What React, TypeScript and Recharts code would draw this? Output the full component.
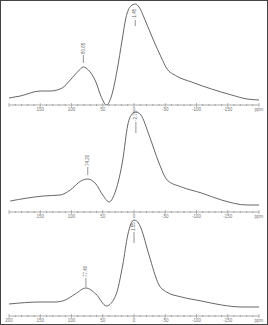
import React from 'react';
import { LineChart, Line, XAxis, YAxis, ReferenceLine, ReferenceDot } from 'recharts';

const ppm1 = [200, 182, 150, 134, 115, 102, 89, 81, 73, 61, 53, 44, 36, 27, 19, 13, 5, -2, -8, -19, -31, -44, -52, -68, -92, -124, -156, -181, -200];
const int1 = [7, 9, 14, 14, 17, 25, 34, 38, 35, 23, 9, 0, 9, 35, 65, 87, 99, 101, 98, 83, 65, 47, 37, 29, 23, 16, 10, 6, 5];

const ppm2 = [198, 145, 118, 102, 85, 74, 61, 50, 40, 29, 18, 10, 3, -3, -11, -24, -40, -53, -76, -108, -140, -181, -200];
const int2 = [11, 16, 17, 22, 31, 33, 28, 17, 10, 22, 52, 87, 98, 100, 97, 77, 49, 32, 25, 19, 12, 7, 7];

const ppm3 = [200, 150, 126, 110, 94, 77, 61, 44, 29, 18, 10, 5, 0, -6, -11, -24, -40, -52, -76, -108, -140, -173, -200];
const int3 = [12, 14, 14, 16, 22, 28, 22, 10, 21, 51, 81, 92, 96, 94, 88, 61, 31, 24, 19, 15, 11, 9, 9];

const peakPpm1 = [81, -2];
const peakLabels1 = ['80.65', '-1.45'];
const peakPpm2 = [74, -3];
const peakLabels2 = ['74.20', '-2.75'];
const peakPpm3 = [77, 0];
const peakLabels3 = ['77.40', '1.55'];

// marker geometry per peak: [line top, line bottom] in intensity units
const markerRanges1 = [[50, 42], [85, 79]];
const markerRanges2 = [[45, 37], [90, 79]];
const markerRanges3 = [[38, 29], [84, 73]];

const tickValues: number[] = [];
for (let v = 200; v >= -200; v -= 10) tickValues.push(v);

const build = (p: number[], v: number[]) => p.map((x, i) => ({ ppm: x, y: v[i] }));

const AxisTick = (props: any) => {
  const { x, y, payload, showLeft } = props;
  const v = payload.value;
  const major = v % 50 === 0;
  let label = '';
  if (v === -200) label = 'ppm';
  else if (v === 200) label = showLeft ? '200' : '';
  else if (major) label = String(v);
  return (
    <g>
      <line x1={x} x2={x} y1={y - (major ? 2 : 1)} y2={y + (major ? 2 : 1)} stroke="#888" strokeWidth={0.6} />
      {label && (
        <text x={x} y={y + 6} textAnchor="middle" fontSize={4.5} fill="#777" fontFamily="Liberation Sans, Arial, sans-serif">
          {label}
        </text>
      )}
    </g>
  );
};

const PeakText = (text: string) => (props: any) => {
  const vb = props.viewBox || {};
  const x = (vb.x ?? 0) + (vb.width ?? 0) / 2;
  const y = (vb.y ?? 0) + (vb.height ?? 0) / 2;
  return (
    <text
      x={x}
      y={y}
      transform={`rotate(-90, ${x}, ${y})`}
      textAnchor="start"
      dominantBaseline="middle"
      fontSize={4.5}
      fill="#666"
      fontFamily="Liberation Sans, Arial, sans-serif"
    >
      {text}
    </text>
  );
};

const Panel = ({ data, top, peaks, labels, ranges, showLeft }: any) => (
  <div style={{ position: 'absolute', left: 0, top }}>
    <LineChart width={268} height={112} data={data} margin={{ top: 0, right: 10, bottom: 0, left: 8 }}>
      <XAxis
        dataKey="ppm"
        type="number"
        domain={[-200, 200]}
        reversed
        ticks={tickValues}
        interval={0}
        height={7}
        tickSize={0}
        tickMargin={0}
        tickLine={false}
        axisLine={{ stroke: '#888', strokeWidth: 0.7 }}
        tick={<AxisTick showLeft={showLeft} />}
        allowDataOverflow
      />
      <YAxis hide domain={[0, 105]} allowDataOverflow />
      {peaks.map((p: number, i: number) => (
        <ReferenceLine
          key={'l' + i}
          segment={[{ x: p, y: ranges[i][0] }, { x: p, y: ranges[i][1] }]}
          stroke="#666"
          strokeWidth={0.7}
        />
      ))}
      {peaks.map((p: number, i: number) => (
        <ReferenceDot
          key={'d' + i}
          x={p}
          y={ranges[i][0] + 1}
          r={0.01}
          fill="none"
          stroke="none"
          label={PeakText(labels[i])}
        />
      ))}
      <Line
        type="monotone"
        dataKey="y"
        stroke="#555"
        strokeWidth={0.9}
        dot={false}
        isAnimationActive={false}
      />
    </LineChart>
  </div>
);

export default function App() {
  return (
    <div
      style={{
        position: 'fixed',
        left: 0,
        top: 0,
        width: 268,
        height: 325,
        background: '#fff',
        border: '1px solid #444',
        boxSizing: 'border-box',
        overflow: 'hidden',
      }}
    >
      <Panel data={build(ppm1, int1)} top={-1} peaks={peakPpm1} labels={peakLabels1} ranges={markerRanges1} showLeft={false} />
      <Panel data={build(ppm2, int2)} top={106} peaks={peakPpm2} labels={peakLabels2} ranges={markerRanges2} showLeft={false} />
      <Panel data={build(ppm3, int3)} top={210} peaks={peakPpm3} labels={peakLabels3} ranges={markerRanges3} showLeft={true} />
    </div>
  );
}
